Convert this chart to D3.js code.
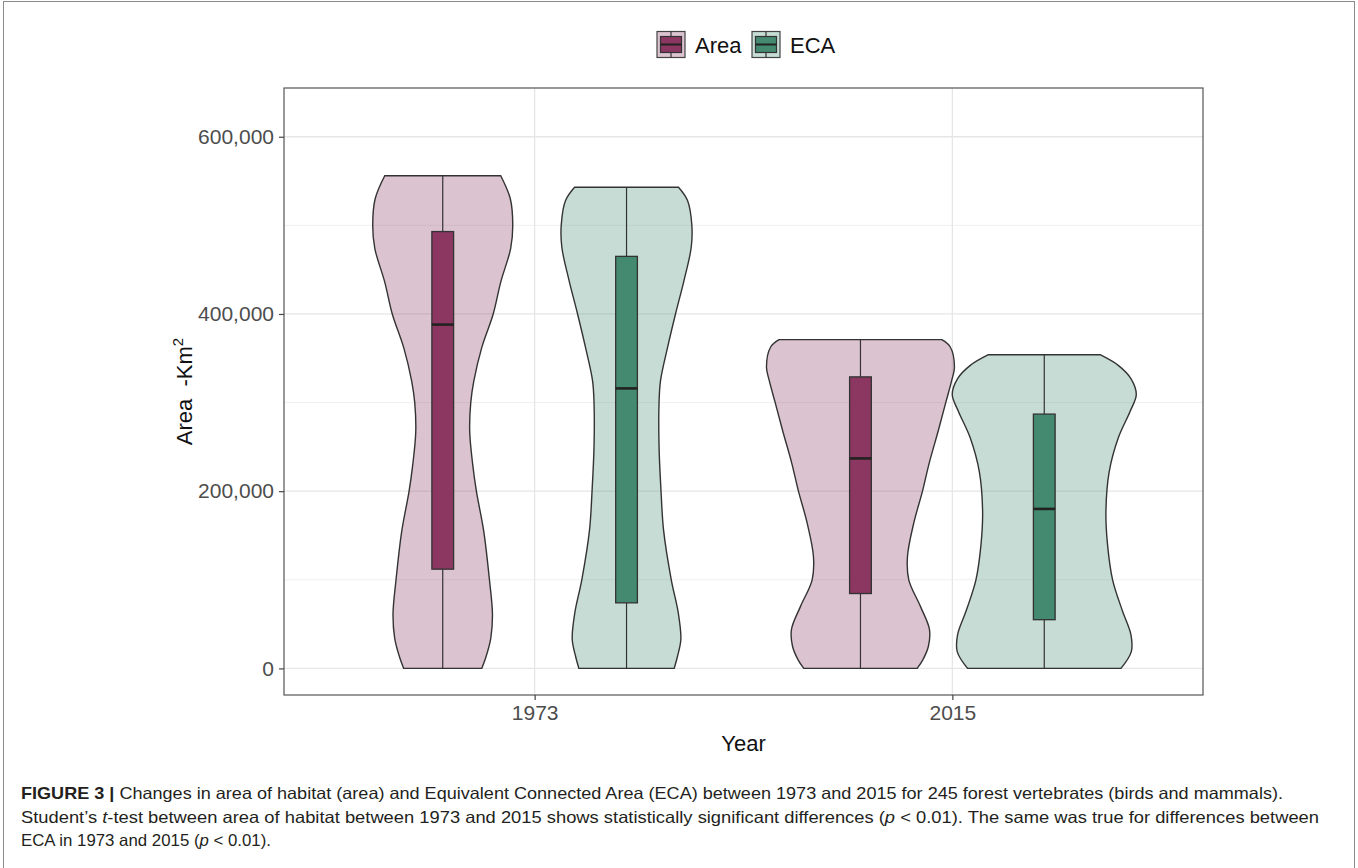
<!DOCTYPE html>
<html>
<head>
<meta charset="utf-8">
<script src="https://cdn.jsdelivr.net/npm/d3@7"></script>
<style>
  html, body { margin: 0; padding: 0; background: #fff; }
  svg { display: block; }
  text { font-family: "Liberation Sans", Arial, Helvetica, sans-serif; }
</style>
</head>
<body>
<svg id="chart" width="1358" height="868"></svg>
<script>
// ---- Data -------------------------------------------------------------
const years = ["1973", "2015"];
const groups = ["Area", "ECA"];
const yTicks = [0, 200000, 400000, 600000];
const yMinorTicks = [100000, 300000, 500000];

// Violin outlines: [value in km², relative density]
const area1973Profile = [
  [556000, 0.617], [530000, 0.719], [500000, 0.745], [474000, 0.723],
  [436000, 0.617], [400000, 0.537], [362000, 0.415], [324000, 0.330],
  [300000, 0.298], [267000, 0.287], [230000, 0.319], [200000, 0.358],
  [155000, 0.436], [100000, 0.497], [61000, 0.529], [34000, 0.511],
  [12000, 0.457], [0, 0.415]
];
const eca1973Profile = [
  [543000, 0.553], [528000, 0.649], [500000, 0.695], [475000, 0.688],
  [438000, 0.612], [400000, 0.521], [362000, 0.436], [325000, 0.362],
  [300000, 0.346], [250000, 0.346], [200000, 0.367], [156000, 0.394],
  [100000, 0.476], [63000, 0.550], [33000, 0.578], [14000, 0.543],
  [0, 0.507]
];
const area2015Profile = [
  [371000, 0.865], [363000, 0.954], [340000, 1.000], [325000, 0.971],
  [301000, 0.910], [269000, 0.830], [232000, 0.732], [200000, 0.660],
  [164000, 0.567], [126000, 0.500], [100000, 0.514], [70000, 0.638],
  [44000, 0.734], [25000, 0.723], [10000, 0.665], [0, 0.603]
];
const eca2015Profile = [
  [354000, 0.594], [342000, 0.787], [327000, 0.922], [309000, 0.979],
  [290000, 0.913], [260000, 0.787], [222000, 0.691], [177000, 0.656],
  [140000, 0.673], [100000, 0.727], [64500, 0.833], [38000, 0.922],
  [19000, 0.926], [0, 0.816]
];

// Box-plot summaries: [year, group, min, q1, median, q3, max]
const boxStats = [
  ["1973", "Area", 0, 112000, 388000, 493000, 556000],
  ["1973", "ECA",  0,  74000, 316000, 465000, 543000],
  ["2015", "Area", 0,  84500, 237000, 329000, 371000],
  ["2015", "ECA",  0,  55000, 180000, 287000, 354000]
];

const violins = [
  { year: "1973", group: "Area", profile: area1973Profile },
  { year: "1973", group: "ECA",  profile: eca1973Profile },
  { year: "2015", group: "Area", profile: area2015Profile },
  { year: "2015", group: "ECA",  profile: eca2015Profile }
];

const fillColors = { Area: "#8b3762", ECA: "#438a71" };

// ---- Layout -----------------------------------------------------------
const panel = { left: 284, right: 1203, top: 88, bottom: 695 };
const svg = d3.select("#chart");

const x = d3.scalePoint()
  .domain(years)
  .range([panel.left, panel.right])
  .padding(0.6);
const step = x.step();

const dodge = d3.scaleBand()
  .domain(groups)
  .range([-0.44 * step, 0.44 * step]);
const groupCenter = (year, group) => x(year) + dodge(group) + dodge.bandwidth() / 2;

const violinHalf = d3.scaleLinear().domain([0, 1]).range([0, 0.225 * step]);
const boxHalf = 0.026 * step;

const y = d3.scaleLinear()
  .domain([-30000, 655000])
  .range([panel.bottom, panel.top]);

// Outer figure frame
svg.append("rect")
  .attr("x", 3.5).attr("y", 1.5)
  .attr("width", 1351).attr("height", 900)
  .attr("fill", "none")
  .attr("stroke", "#8a8a8a")
  .attr("stroke-width", 1);

// ---- Grid -------------------------------------------------------------
const grid = svg.append("g");
grid.selectAll("line.minor")
  .data(yMinorTicks)
  .join("line")
  .attr("x1", panel.left).attr("x2", panel.right)
  .attr("y1", d => y(d)).attr("y2", d => y(d))
  .attr("stroke", "#f0f0f0").attr("stroke-width", 1);
grid.selectAll("line.major")
  .data(yTicks)
  .join("line")
  .attr("x1", panel.left).attr("x2", panel.right)
  .attr("y1", d => y(d)).attr("y2", d => y(d))
  .attr("stroke", "#e6e6e6").attr("stroke-width", 1.3);
grid.selectAll("line.vert")
  .data(years)
  .join("line")
  .attr("x1", d => x(d)).attr("x2", d => x(d))
  .attr("y1", panel.top).attr("y2", panel.bottom)
  .attr("stroke", "#e6e6e6").attr("stroke-width", 1.3);

// ---- Violins ----------------------------------------------------------
const violinArea = (cx) => d3.area()
  .curve(d3.curveCatmullRom.alpha(0.5))
  .y(d => y(d[0]))
  .x0(d => cx - violinHalf(d[1]))
  .x1(d => cx + violinHalf(d[1]));

svg.append("g").selectAll("path")
  .data(violins)
  .join("path")
  .attr("d", d => violinArea(groupCenter(d.year, d.group))(d.profile))
  .attr("fill", d => fillColors[d.group])
  .attr("fill-opacity", 0.3)
  .attr("stroke", "#333")
  .attr("stroke-width", 1.4);

// ---- Box plots ---------------------------------------------------------
const boxes = svg.append("g").selectAll("g")
  .data(boxStats)
  .join("g");

boxes.append("line")
  .attr("x1", d => groupCenter(d[0], d[1])).attr("x2", d => groupCenter(d[0], d[1]))
  .attr("y1", d => y(d[6])).attr("y2", d => y(d[5]))
  .attr("stroke", "#333").attr("stroke-width", 1.2);
boxes.append("line")
  .attr("x1", d => groupCenter(d[0], d[1])).attr("x2", d => groupCenter(d[0], d[1]))
  .attr("y1", d => y(d[3])).attr("y2", d => y(d[2]))
  .attr("stroke", "#333").attr("stroke-width", 1.2);
boxes.append("rect")
  .attr("x", d => groupCenter(d[0], d[1]) - boxHalf)
  .attr("width", 2 * boxHalf)
  .attr("y", d => y(d[5]))
  .attr("height", d => y(d[3]) - y(d[5]))
  .attr("fill", d => fillColors[d[1]])
  .attr("stroke", "#333").attr("stroke-width", 1.3);
boxes.append("line")
  .attr("x1", d => groupCenter(d[0], d[1]) - boxHalf)
  .attr("x2", d => groupCenter(d[0], d[1]) + boxHalf)
  .attr("y1", d => y(d[4])).attr("y2", d => y(d[4]))
  .attr("stroke", "#222").attr("stroke-width", 2.6);

// ---- Panel border and axes -------------------------------------------
svg.append("rect")
  .attr("x", panel.left).attr("y", panel.top)
  .attr("width", panel.right - panel.left)
  .attr("height", panel.bottom - panel.top)
  .attr("fill", "none")
  .attr("stroke", "#555").attr("stroke-width", 1.2);

const yAxis = svg.append("g")
  .attr("transform", `translate(${panel.left},0)`)
  .call(d3.axisLeft(y).tickValues(yTicks).tickSize(5).tickPadding(5)
    .tickFormat(d3.format(",")));
yAxis.select(".domain").remove();
yAxis.selectAll(".tick line").attr("stroke", "#444").attr("stroke-width", 1.2);
yAxis.selectAll(".tick text")
  .attr("fill", "#4d4d4d")
  .style("font-size", "21px")
  .style("font-family", "'Liberation Sans', Arial, sans-serif");

const xAxis = svg.append("g")
  .attr("transform", `translate(0,${panel.bottom})`)
  .call(d3.axisBottom(x).tickSize(5).tickPadding(5));
xAxis.select(".domain").remove();
xAxis.selectAll(".tick line").attr("stroke", "#444").attr("stroke-width", 1.2);
xAxis.selectAll(".tick text")
  .attr("fill", "#4d4d4d")
  .style("font-size", "21px")
  .style("font-family", "'Liberation Sans', Arial, sans-serif");

// Axis titles
svg.append("text")
  .attr("x", (panel.left + panel.right) / 2)
  .attr("y", 751)
  .attr("text-anchor", "middle")
  .attr("fill", "#111")
  .style("font-size", "22px")
  .text("Year");

const yTitle = svg.append("text")
  .attr("transform", `translate(192,${(panel.top + panel.bottom) / 2}) rotate(-90)`)
  .attr("text-anchor", "middle")
  .attr("fill", "#111")
  .style("font-size", "22px")
  .style("white-space", "pre");
yTitle.append("tspan").text("Area  -Km");
yTitle.append("tspan").attr("dy", -9).style("font-size", "15px").text("2");

// ---- Legend -----------------------------------------------------------
const legendItems = [
  { group: "Area", keyX: 657, textX: 695 },
  { group: "ECA", keyX: 752, textX: 790 }
];
const keyW = 28, keyH = 26, keyTop = 31.5;
const legend = svg.append("g").selectAll("g")
  .data(legendItems)
  .join("g");
legend.append("rect")
  .attr("x", d => d.keyX).attr("y", keyTop)
  .attr("width", keyW).attr("height", keyH)
  .attr("fill", d => fillColors[d.group]).attr("fill-opacity", 0.3)
  .attr("stroke", "#444").attr("stroke-width", 1.2);
legend.append("line")
  .attr("x1", d => d.keyX + keyW / 2).attr("x2", d => d.keyX + keyW / 2)
  .attr("y1", keyTop).attr("y2", keyTop + keyH)
  .attr("stroke", "#333").attr("stroke-width", 1.2);
legend.append("rect")
  .attr("x", d => d.keyX + 3.5).attr("y", keyTop + 5)
  .attr("width", keyW - 7).attr("height", keyH - 10)
  .attr("fill", d => fillColors[d.group])
  .attr("stroke", "#333").attr("stroke-width", 1.2);
legend.append("line")
  .attr("x1", d => d.keyX + 3.5).attr("x2", d => d.keyX + keyW - 3.5)
  .attr("y1", keyTop + keyH / 2).attr("y2", keyTop + keyH / 2)
  .attr("stroke", "#222").attr("stroke-width", 2);
legend.append("text")
  .attr("x", d => d.textX).attr("y", 52.5)
  .attr("fill", "#111")
  .style("font-size", "22px")
  .text(d => d.group);

// ---- Caption ------------------------------------------------------------
const captionLeft = 21;
const caption = svg.append("g")
  .style("font-size", "16.5px")
  .attr("fill", "#231f20");

const line1 = caption.append("text").attr("x", captionLeft).attr("y", 799)
  .attr("textLength", 1262).attr("lengthAdjust", "spacingAndGlyphs");
line1.append("tspan").style("font-weight", "bold").text("FIGURE 3 | ");
line1.append("tspan").text("Changes in area of habitat (area) and Equivalent Connected Area (ECA) between 1973 and 2015 for 245 forest vertebrates (birds and mammals).");

const line2 = caption.append("text").attr("x", captionLeft).attr("y", 823)
  .attr("textLength", 1298).attr("lengthAdjust", "spacingAndGlyphs");
line2.append("tspan").text("Student\u2019s ");
line2.append("tspan").style("font-style", "italic").text("t");
line2.append("tspan").text("-test between area of habitat between 1973 and 2015 shows statistically significant differences (");
line2.append("tspan").style("font-style", "italic").text("p");
line2.append("tspan").text(" < 0.01). The same was true for differences between");

const line3 = caption.append("text").attr("x", captionLeft).attr("y", 846)
  .attr("textLength", 250).attr("lengthAdjust", "spacingAndGlyphs");
line3.append("tspan").text("ECA in 1973 and 2015 (");
line3.append("tspan").style("font-style", "italic").text("p");
line3.append("tspan").text(" < 0.01).");
</script>
</body>
</html>
